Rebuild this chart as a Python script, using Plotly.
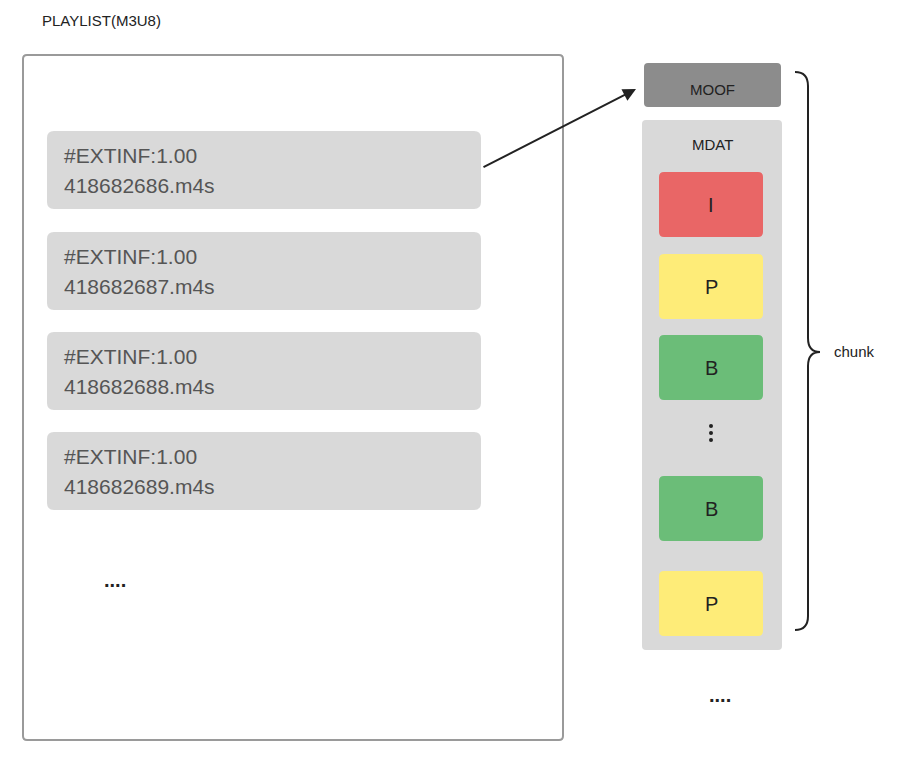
import plotly.graph_objects as go

W, H = 903, 759
OFF = 8  # page body margin shift

# playlist entries
durations = ["1.00", "1.00", "1.00", "1.00"]
segments = ["418682686.m4s", "418682687.m4s", "418682688.m4s", "418682689.m4s"]
entry_tops = [131, 232, 332, 432]

# frames inside MDAT
frame_labels = ["I", "P", "B", "B", "P"]
frame_colors = ["#e96666", "#feec78", "#6bbd78", "#6bbd78", "#feec78"]
frame_tops = [172, 254, 335, 476, 571]


def rrect(x0, y0, x1, y1, r=6):
    return (f"M{x0+r},{y0} L{x1-r},{y0} Q{x1},{y0} {x1},{y0+r} "
            f"L{x1},{y1-r} Q{x1},{y1} {x1-r},{y1} L{x0+r},{y1} "
            f"Q{x0},{y1} {x0},{y1-r} L{x0},{y0+r} Q{x0},{y0} {x0+r},{y0} Z")


shapes = []
ann = []

def text(x, y, s, size=14, color="#222", xanchor="center"):
    ann.append(dict(x=x, y=y, text=s, showarrow=False, xanchor=xanchor,
                    yanchor="middle", font=dict(size=size, color=color, family="Helvetica, Arial, Liberation Sans")))

# playlist
text(40, 20, "PLAYLIST(M3U8)", 15, "#222", "left")
shapes.append(dict(type="path", path=rrect(23, 55, 563, 740, 4),
                   line=dict(color="#9a9a9a", width=2), fillcolor="white"))
for d, s, t in zip(durations, segments, entry_tops):
    shapes.append(dict(type="path", path=rrect(47, t, 481, t + 78, 7),
                       line=dict(width=0), fillcolor="#d9d9d9"))
    text(62, t + 24, f"#EXTINF:{d}", 21, "#555", "left")
    text(62, t + 54, s, 21, "#555", "left")
text(115, 580, "<b>....</b>", 20, "#222")

# MOOF / MDAT
shapes.append(dict(type="path", path=rrect(644, 63, 781, 107, 4),
                   line=dict(width=0), fillcolor="#8c8c8c"))
text(712, 89, "MOOF", 15, "#222")
shapes.append(dict(type="path", path=rrect(642, 120, 782, 650, 4),
                   line=dict(width=0), fillcolor="#d9d9d9"))
text(712, 144, "MDAT", 15, "#222")
for lab, col, t in zip(frame_labels, frame_colors, frame_tops):
    shapes.append(dict(type="path", path=rrect(659, t, 763, t + 65, 5),
                       line=dict(width=0), fillcolor=col))
    text(711, t + 33, lab, 20, "#222")
for yy in [426, 433, 440]:
    shapes.append(dict(type="circle", x0=709, x1=713, y0=yy - 2, y1=yy + 2,
                       fillcolor="#222", line=dict(width=0)))
text(720, 695, "<b>....</b>", 20, "#222")

# brace
shapes.append(dict(type="path",
                   path="M795,72 Q808,72 808,86 L808,338 Q808,352 820,352 "
                        "Q808,352 808,366 L808,616 Q808,630 795,630",
                   line=dict(color="#222", width=2)))
text(832, 351, "chunk", 15, "#222", "left")

# arrow
ann.append(dict(x=636, y=89, ax=482, ay=168, xref="x", yref="y", axref="x", ayref="y",
                showarrow=True, arrowhead=2, arrowsize=1.3, arrowwidth=2,
                arrowcolor="#222", text=""))

fig = go.Figure()
fig.update_layout(
    width=W, height=H, margin=dict(l=0, r=0, t=0, b=0),
    paper_bgcolor="white", plot_bgcolor="white",
    xaxis=dict(range=[OFF, W + OFF], visible=False, fixedrange=True),
    yaxis=dict(range=[H + OFF, OFF], visible=False, fixedrange=True),
    shapes=shapes, annotations=ann, showlegend=False,
)
fig.write_html("out.html")
